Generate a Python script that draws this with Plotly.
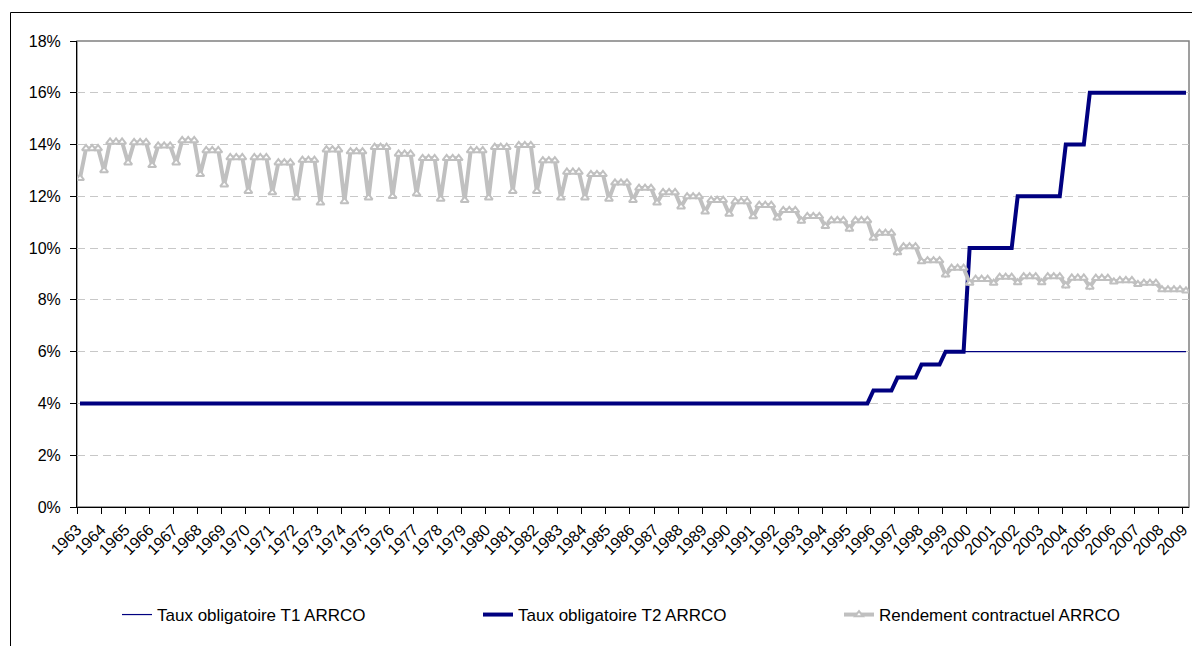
import plotly.graph_objects as go

# ---- data ----
years = list(range(1963, 2010))

# Rendement contractuel ARRCO: value in Q1 of each year, and value for Q2-Q4
rend_q1 = [12.7, 13.0, 13.3, 13.2, 13.3, 12.85, 12.45, 12.2, 12.15, 11.95,
           11.75, 11.8, 11.95, 12.0, 12.1, 11.9, 11.85, 11.95, 12.2, 12.2,
           11.95, 11.95, 11.9, 11.85, 11.75, 11.6, 11.4, 11.32, 11.22, 11.17,
           11.05, 10.84, 10.74, 10.39, 9.83, 9.48, 8.97, 8.65, 8.65, 8.67,
           8.67, 8.55, 8.5, 8.7, 8.6, 8.4, 8.35]
rend_q234 = [13.85, 14.1, 14.08, 13.95, 14.16, 13.77, 13.5, 13.5, 13.3, 13.4,
             13.8, 13.73, 13.9, 13.64, 13.47, 13.47, 13.77, 13.9, 13.97, 13.38,
             12.94, 12.85, 12.52, 12.32, 12.15, 11.99, 11.85, 11.8, 11.66, 11.46,
             11.23, 11.07, 11.07, 10.58, 10.06, 9.52, 9.23, 8.8, 8.88, 8.9,
             8.9, 8.85, 8.84, 8.75, 8.65, 8.4]

# Taux obligatoires (per year)
t1_rate = [4.0] * 33 + [4.5, 5.0, 5.5] + [6.0] * 11
t2_rate = [4.0] * 33 + [4.5, 5.0, 5.5, 6.0, 10.0, 10.0, 12.0, 12.0, 14.0] + [16.0] * 5

# ---- quarterly series (1963 Q1 .. 2009 Q1) ----
rend, t1, t2 = [], [], []
for i, y in enumerate(years):
    nq = 1 if y == 2009 else 4
    for q in range(nq):
        rend.append(rend_q1[i] if q == 0 else rend_q234[i])
        t1.append(t1_rate[i])
        t2.append(t2_rate[i])
x = list(range(len(rend)))

tickvals = [4 * k - 0.5 for k in range(len(years))]
ticktext = [str(y) for y in years]

FONT = "Liberation Sans, Arial, sans-serif"

fig = go.Figure()
fig.add_trace(go.Scatter(x=x, y=t1, mode="lines", name="Taux obligatoire T1 ARRCO",
                         line=dict(color="#000080", width=1.2)))
fig.add_trace(go.Scatter(x=x, y=t2, mode="lines", name="Taux obligatoire T2 ARRCO",
                         line=dict(color="#000080", width=4)))
fig.add_trace(go.Scatter(x=x, y=rend, mode="lines+markers", name="Rendement contractuel ARRCO",
                         line=dict(color="#C0C0C0", width=4),
                         marker=dict(symbol="triangle-up", size=7, color="white",
                                     line=dict(color="#C0C0C0", width=2))))

# plot area border (grey) and outer chart border (black)
L, R, T, B = 77, 1189, 41, 507
W, H = R - L, B - T
def px(v): return (v - L) / W
def py(v): return (B - v) / H

fig.add_shape(type="rect", xref="paper", yref="paper", x0=0, x1=1, y0=0, y1=1,
              line=dict(color="#808080", width=1.5), layer="below")
fig.add_shape(type="path", xref="paper", yref="paper",
              path=f"M {px(10.5)} {py(646)} L {px(10.5)} {py(12.5)} L {px(1192)} {py(12.5)}",
              line=dict(color="black", width=1))

fig.update_layout(
    width=1192, height=646,
    margin=dict(l=L, r=1192 - R, t=T, b=646 - B, autoexpand=False),
    paper_bgcolor="white", plot_bgcolor="white",
    font=dict(family=FONT, size=16, color="black"),
    showlegend=True,
    legend=dict(orientation="h", x=px(117), y=py(597), xanchor="left", yanchor="top",
                font=dict(size=17, family=FONT), entrywidth=316, entrywidthmode="pixels",
                bgcolor="rgba(0,0,0,0)"),
)
fig.update_xaxes(range=[-0.5, len(x) - 0.5], tickmode="array", tickvals=tickvals,
                 ticktext=ticktext, tickangle=-45, ticks="outside", ticklen=6,
                 tickcolor="black", showline=True, linecolor="black", linewidth=1,
                 showgrid=False, zeroline=False, tickfont=dict(size=16), automargin=False)
fig.update_yaxes(range=[0, 18], dtick=2, tick0=0, ticksuffix="%", ticks="outside",
                 ticklen=6, tickcolor="black", showline=True, linecolor="black",
                 linewidth=1, showgrid=True, gridcolor="#C8C8C8", griddash="8px,5px",
                 gridwidth=1, zeroline=False, tickfont=dict(size=16),
                 ticklabelstandoff=6, automargin=False)

fig.write_html("out.html", config={"displayModeBar": False},
               post_script="document.body.style.margin='0px';")
